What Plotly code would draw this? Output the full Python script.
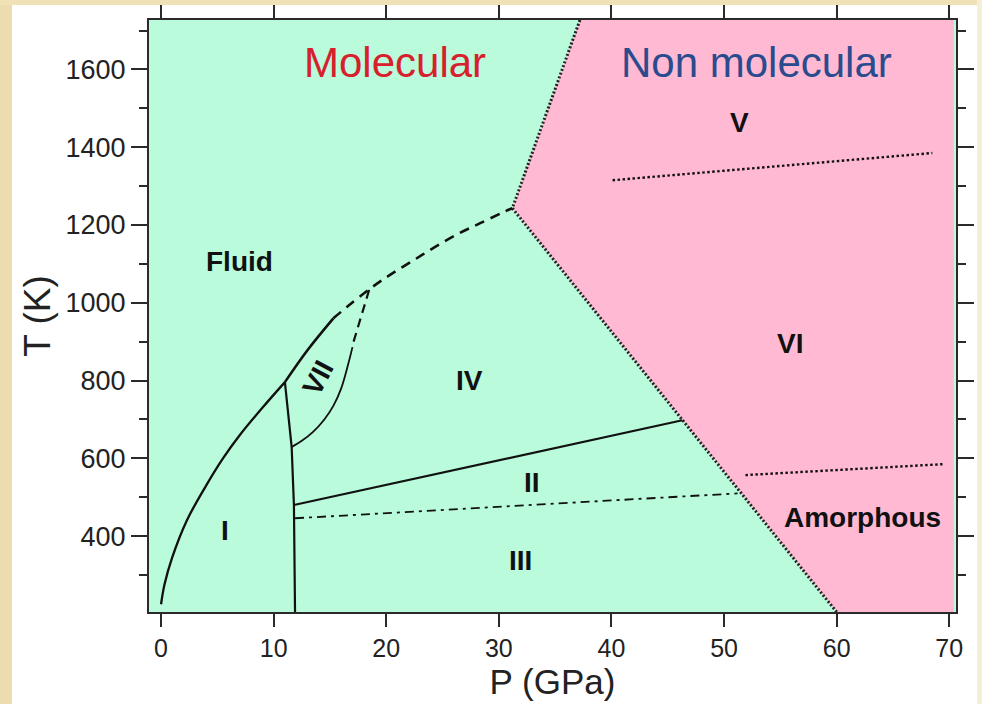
import plotly.graph_objects as go

# ---------------- data ----------------
P_RANGE = [-1.07, 70.6]
T_RANGE = [205, 1727]

melt_P = [0.0, 0.3, 1.0, 2.3, 4.0, 5.5, 7.0, 9.0, 11.0]
melt_T = [225, 275, 346, 441, 530, 600, 660, 730, 796]

vii_top_P = [11.0, 13.0, 15.3]
vii_top_T = [796, 878, 960]

melt_dash_P = [15.3, 16.5, 18.6, 20.3, 22.3, 24.2, 26.3, 28.3, 30.4, 31.2]
melt_dash_T = [960, 989, 1037, 1071, 1107, 1141, 1176, 1204, 1233, 1243]

vii_right_P = [11.6, 12.5, 13.5, 14.5, 15.3, 16.0, 16.6, 17.0]
vii_right_T = [629, 645, 668, 700, 735, 780, 840, 886]

vii_dash_P = [17.1, 17.8, 18.5]
vii_dash_T = [900, 968, 1035]

i_iii_P = [11.0, 11.6, 11.8, 11.9]
i_iii_T = [796, 629, 480, 205]

iv_ii_P = [11.8, 46.3]
iv_ii_T = [480, 698]

ii_iii_P = [11.9, 51.2]
ii_iii_T = [446, 510]

nonmol_edge_P = [37.2, 31.2, 60.0]
nonmol_edge_T = [1727, 1243, 205]

nonmol_P = [37.2, 31.2, 60.0, 70.4, 70.4]
nonmol_T = [1727, 1243, 205, 205, 1727]

v_vi_P = [40.1, 68.5]
v_vi_T = [1315, 1385]

vi_am_P = [51.9, 69.4]
vi_am_T = [557, 585]

phase_labels = ["Fluid", "VII", "IV", "II", "III", "I", "V", "VI", "Amorphous"]
phase_P = [7.0, 13.9, 27.4, 32.9, 31.9, 5.7, 51.4, 55.9, 62.3]
phase_T = [1107, 806, 801, 539, 338, 415, 1464, 896, 449]
phase_angle = [0, -62, 0, 0, 0, 0, 0, 0, 0]

region_labels = ["Molecular", "Non molecular"]
region_P = [20.8, 52.9]
region_T = [1618, 1618]
region_colors = ["#d7202c", "#2a4b8d"]

x_ticks = [0, 10, 20, 30, 40, 50, 60, 70]
y_ticks = [400, 600, 800, 1000, 1200, 1400, 1600]

# ---------------- styling ----------------
FONT = "Liberation Sans, Arial, sans-serif"
GREEN = "#b9fbdb"
PINK = "#ffb9d3"
LINE = "#111111"

fig = go.Figure()

fig.add_trace(go.Scatter(x=nonmol_P, y=nonmol_T, mode="lines", fill="toself",
                         fillcolor=PINK, line=dict(width=0), hoverinfo="skip"))
fig.add_trace(go.Scatter(x=nonmol_edge_P, y=nonmol_edge_T, mode="lines",
                         line=dict(color="#222222", width=3, dash="2px,2px")))

fig.add_trace(go.Scatter(x=melt_P, y=melt_T, mode="lines", line_shape="spline",
                         line=dict(color=LINE, width=2.3)))
fig.add_trace(go.Scatter(x=vii_top_P, y=vii_top_T, mode="lines", line_shape="spline",
                         line=dict(color=LINE, width=2.6)))
fig.add_trace(go.Scatter(x=melt_dash_P, y=melt_dash_T, mode="lines", line_shape="spline",
                         line=dict(color=LINE, width=2.6, dash="10px,7px")))
fig.add_trace(go.Scatter(x=vii_right_P, y=vii_right_T, mode="lines", line_shape="spline",
                         line=dict(color=LINE, width=1.8)))
fig.add_trace(go.Scatter(x=vii_dash_P, y=vii_dash_T, mode="lines",
                         line=dict(color=LINE, width=2.2, dash="9px,6px")))
fig.add_trace(go.Scatter(x=i_iii_P, y=i_iii_T, mode="lines",
                         line=dict(color=LINE, width=2.2)))
fig.add_trace(go.Scatter(x=iv_ii_P, y=iv_ii_T, mode="lines",
                         line=dict(color=LINE, width=2.2)))
fig.add_trace(go.Scatter(x=ii_iii_P, y=ii_iii_T, mode="lines",
                         line=dict(color=LINE, width=1.8, dash="9px,5px,3px,5px")))
fig.add_trace(go.Scatter(x=v_vi_P, y=v_vi_T, mode="lines",
                         line=dict(color=LINE, width=2.4, dash="2.5px,2.5px")))
fig.add_trace(go.Scatter(x=vi_am_P, y=vi_am_T, mode="lines",
                         line=dict(color=LINE, width=2.4, dash="2.5px,2.5px")))

annotations = []
for txt, p, t, ang in zip(phase_labels, phase_P, phase_T, phase_angle):
    annotations.append(dict(x=p, y=t, text="<b>%s</b>" % txt, showarrow=False,
                            textangle=ang, font=dict(family=FONT, size=28, color="#111111")))
for txt, p, t, c in zip(region_labels, region_P, region_T, region_colors):
    annotations.append(dict(x=p, y=t, text=txt, showarrow=False,
                            font=dict(family=FONT, size=42, color=c)))

L, R, T, B = 149, 26, 20, 92
W, H = 982, 704
pw, ph = W - L - R, H - T - B


def px_x(v):
    return (v - L) / pw


def px_y(v):
    return (H - B - v) / ph


shapes = [
    dict(type="rect", xref="paper", yref="paper", x0=px_x(0), x1=px_x(12),
         y0=px_y(H), y1=px_y(0), fillcolor="#eddcaf", line_width=0, layer="below"),
    dict(type="rect", xref="paper", yref="paper", x0=px_x(0), x1=px_x(W),
         y0=px_y(5), y1=px_y(0), fillcolor="#f0e1b6", line_width=0, layer="below"),
    dict(type="rect", xref="paper", yref="paper", x0=px_x(977), x1=px_x(W),
         y0=px_y(H), y1=px_y(0), fillcolor="#f7eed6", line_width=0, layer="below"),
]

axis_common = dict(showline=True, linecolor="#2a2a2a", linewidth=2, mirror="ticks",
                   ticks="outside", tickcolor="#2a2a2a", tickwidth=2,
                   showgrid=False, zeroline=False, automargin=False)

fig.update_layout(
    width=W, height=H,
    margin=dict(l=L, r=R, t=T, b=B, autoexpand=False),
    paper_bgcolor="white", plot_bgcolor=GREEN,
    showlegend=False,
    xaxis=dict(range=P_RANGE, tickvals=x_ticks, ticklen=13,
               tickfont=dict(family=FONT, size=25, color="#222222"),
               title=dict(text="P (GPa)", font=dict(family=FONT, size=35, color="#222222"),
                          standoff=2),
               **axis_common),
    yaxis=dict(range=T_RANGE, tickvals=y_ticks, ticklen=16,
               tickfont=dict(family=FONT, size=27, color="#222222"),
               minor=dict(dtick=100, tick0=0, ticks="outside", ticklen=8, tickwidth=2,
                          tickcolor="#2a2a2a", showgrid=False),
               title=dict(text="T (K)", font=dict(family=FONT, size=37, color="#222222"),
                          standoff=4),
               **axis_common),
    annotations=annotations,
    shapes=shapes,
)

fig.write_html("out.html")
